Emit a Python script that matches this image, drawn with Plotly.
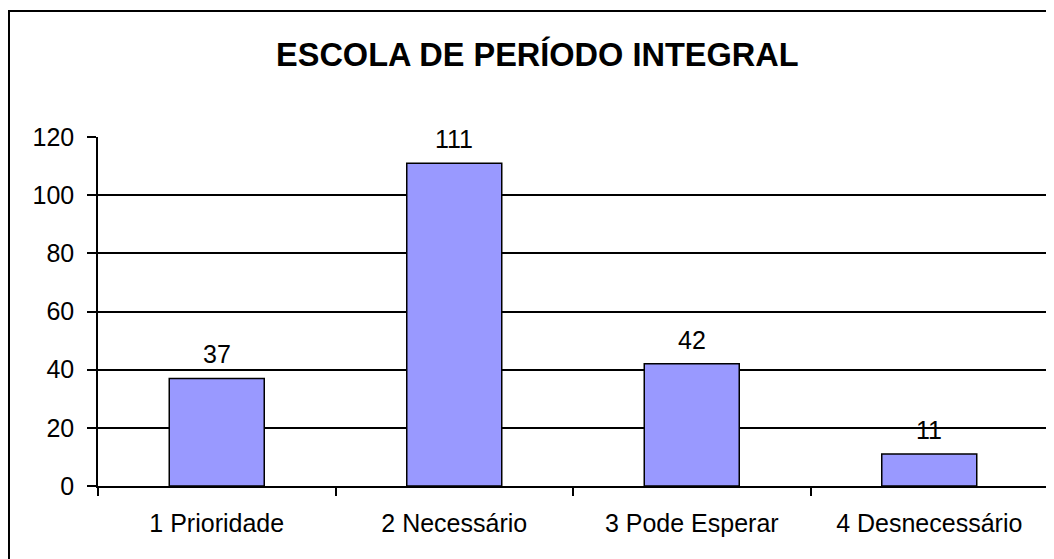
import plotly.graph_objects as go

# Data
categories = ["1 Prioridade", "2 Necessário", "3 Pode Esperar", "4 Desnecessário"]
values = [37, 111, 42, 11]
y_ticks = [0, 20, 40, 60, 80, 100, 120]

FONT = "Liberation Sans, Arial, sans-serif"

fig = go.Figure()

fig.add_trace(go.Bar(
    x=categories, y=values,
    marker=dict(color="#9999FF", line=dict(color="black", width=1.5)),
    hoverinfo="x+y",
))

# value labels above the bars
for cat, val in zip(categories, values):
    fig.add_annotation(
        x=cat, y=val, text=str(val), showarrow=False,
        yanchor="bottom", yshift=8,
        font=dict(family=FONT, size=25, color="black"),
    )

# outer chart border (left + top visible in the reference)
fig.add_shape(type="rect", xref="paper", yref="paper",
              x0=-0.0937, x1=1.1, y0=-0.5, y1=1.361,
              line=dict(color="black", width=2), fillcolor="rgba(0,0,0,0)",
              layer="below")

fig.update_layout(
    width=1046, height=551,
    margin=dict(l=90, r=6, t=129, b=73, autoexpand=False),
    paper_bgcolor="white", plot_bgcolor="white",
    showlegend=False,
    bargap=0.6,
    font=dict(family=FONT, size=25, color="black"),
    title=dict(text="<b>ESCOLA DE PERÍODO INTEGRAL</b>",
               x=0.506, xanchor="center", xref="container",
               y=1 - 47 / 551, yanchor="middle", yref="container",
               font=dict(family=FONT, size=32.5, color="black")),
)

fig.update_xaxes(
    type="category", automargin=False,
    showline=True, linecolor="black", linewidth=1.5,
    ticks="outside", tickson="boundaries", ticklen=8, tickcolor="black", tickwidth=1.5,
    ticklabelstandoff=14,
    showgrid=False, zeroline=False,
    tickfont=dict(family=FONT, size=25, color="black"),
)

fig.update_yaxes(
    range=[0, 120], tickvals=y_ticks, automargin=False,
    showline=True, linecolor="black", linewidth=1.5,
    ticks="outside", ticklen=9, tickcolor="black", tickwidth=1.5,
    ticklabelstandoff=8,
    showgrid=True, gridcolor="black", gridwidth=1.5,
    zeroline=False,
    tickfont=dict(family=FONT, size=25, color="black"),
)

fig.write_html("out.html")
